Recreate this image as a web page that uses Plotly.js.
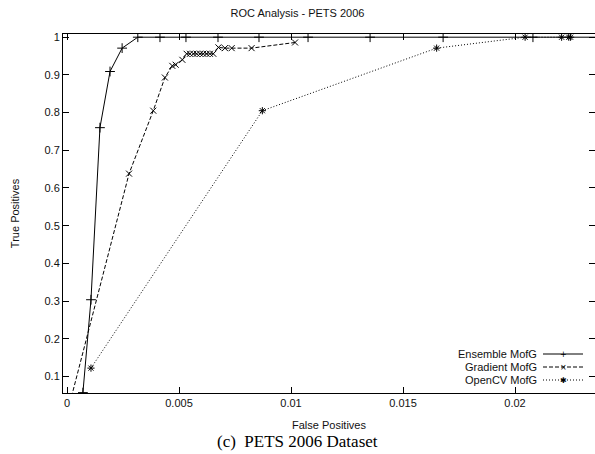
<!DOCTYPE html>
<html>
<head>
<meta charset="utf-8">
<script src="https://cdn.plot.ly/plotly-3.0.1.min.js"></script>
<style>html,body{margin:0;padding:0;background:#fff;}#chart{width:595px;height:454px;}</style>
</head>
<body>
<div id="chart"></div>
<script>
// ---- data ----
const ensembleFP = [0.00071, 0.00107, 0.00147, 0.00192, 0.00246, 0.00316, 0.00415, 0.00531, 0.00674, 0.00857, 0.01076, 0.01353, 0.01679, 0.0208, 0.0245];
const ensembleTP = [0.057, 0.3035, 0.760, 0.909, 0.971, 1.0, 1.0, 1.0, 1.0, 1.0, 1.0, 1.0, 1.0, 1.0, 1.0];

const gradientFP = [0.0, 0.00277, 0.00385, 0.00437, 0.00470, 0.00485, 0.00515, 0.00534, 0.00549, 0.00564, 0.00579, 0.00594, 0.00608, 0.00623, 0.00638, 0.00653, 0.00676, 0.00705, 0.00735, 0.00824, 0.01018];
const gradientTP = [0.0, 0.638, 0.805, 0.893, 0.924, 0.927, 0.940, 0.956, 0.956, 0.956, 0.956, 0.956, 0.956, 0.956, 0.956, 0.956, 0.973, 0.971, 0.971, 0.971, 0.986];

const opencvFP = [0.00107, 0.00872, 0.0165, 0.02045, 0.02208, 0.0224, 0.02248];
const opencvTP = [0.122, 0.805, 0.971, 1.0, 1.0, 1.0, 1.0];

const seriesNames = ["Ensemble MofG", "Gradient MofG", "OpenCV MofG"];
const xTicks = [0, 0.005, 0.01, 0.015, 0.02];
const xTickText = ["0", "0.005", "0.01", "0.015", "0.02"];
const yTicks = [0.1, 0.2, 0.3, 0.4, 0.5, 0.6, 0.7, 0.8, 0.9, 1];
const yTickText = ["0.1", "0.2", "0.3", "0.4", "0.5", "0.6", "0.7", "0.8", "0.9", "1"];

const FONT = "Liberation Sans, Arial, sans-serif";
const INK = "#000";

const traces = [
  {x: ensembleFP, y: ensembleTP, name: seriesNames[0], mode: "lines+markers",
   line: {color: INK, width: 1},
   marker: {symbol: "cross-thin-open", size: 7, color: INK, line: {color: INK, width: 1}}},
  {x: gradientFP, y: gradientTP, name: seriesNames[1], mode: "lines+markers",
   line: {color: INK, width: 1, dash: "4px,2px"},
   marker: {symbol: "x-thin-open", size: 6, color: INK, line: {color: INK, width: 1}}},
  {x: opencvFP, y: opencvTP, name: seriesNames[2], mode: "lines+markers",
   line: {color: INK, width: 1, dash: "1px,2px"},
   marker: {symbol: "asterisk-open", size: 6, color: INK, line: {color: INK, width: 1}}}
];

// plot area in pixels: left 63, right 595, top 34, bottom 393
const L = 63, R = 595, T = 34, B = 393, W = 595, H = 454;
const px = v => (v - L) / (R - L);
const py = v => (B - v) / (B - T);

// custom legend (text left of sample, as in gnuplot)
const legendRows = [354, 367, 380];
const legendDash = ["solid", "4px,2px", "1px,2px"];
const legendGlyph = ["+", "×", "✱"];
const shapes = [];
const annotations = [];
legendRows.forEach((yy, i) => {
  shapes.push({type: "line", xref: "paper", yref: "paper", x0: px(543), x1: px(583), y0: py(yy), y1: py(yy),
               line: {color: INK, width: 1, dash: legendDash[i]}});
  annotations.push({xref: "paper", yref: "paper", x: px(539), y: py(yy), xanchor: "right", yanchor: "middle",
                    text: seriesNames[i], showarrow: false, font: {family: FONT, size: 11, color: "#111"}});
  annotations.push({xref: "paper", yref: "paper", x: px(563), y: py(yy), xanchor: "center", yanchor: "middle",
                    text: legendGlyph[i], showarrow: false, font: {family: "DejaVu Sans", size: 8, color: INK}});
});
annotations.push({xref: "paper", yref: "paper", x: px(297), y: py(441), xanchor: "center", yanchor: "middle",
                  text: "(c)  PETS 2006 Dataset", showarrow: false,
                  font: {family: "Liberation Serif, Times New Roman, serif", size: 17, color: "#000"}});

const layout = {
  width: W, height: H,
  margin: {l: L, r: W - R, t: T, b: H - B, pad: 0},
  paper_bgcolor: "#fff", plot_bgcolor: "#fff",
  showlegend: false,
  font: {family: FONT, size: 11, color: "#111"},
  title: {text: "ROC Analysis - PETS 2006", x: 0.5, xanchor: "center", y: 1 - 13 / H, yanchor: "middle",
          font: {family: FONT, size: 11, color: "#111"}},
  xaxis: {range: [-0.000179, 0.02357], tickvals: xTicks, ticktext: xTickText,
          ticks: "inside", ticklen: 6, tickcolor: INK, tickwidth: 1,
          showline: true, linecolor: INK, linewidth: 1, mirror: "ticks",
          showgrid: false, zeroline: false,
          tickfont: {family: FONT, size: 11, color: "#111"},
          title: {text: "False Positives", standoff: 13, font: {family: FONT, size: 11, color: "#111"}}},
  yaxis: {range: [0.056, 1.0085], tickvals: yTicks, ticktext: yTickText,
          ticks: "inside", ticklen: 6, tickcolor: INK, tickwidth: 1,
          showline: true, linecolor: INK, linewidth: 1, mirror: "ticks",
          showgrid: false, zeroline: false,
          tickfont: {family: FONT, size: 11, color: "#111"},
          title: {text: "True Positives", standoff: 22, font: {family: FONT, size: 11, color: "#111"}}},
  shapes: shapes,
  annotations: annotations
};

Plotly.newPlot("chart", traces, layout, {staticPlot: true, displayModeBar: false});
</script>
</body>
</html>
